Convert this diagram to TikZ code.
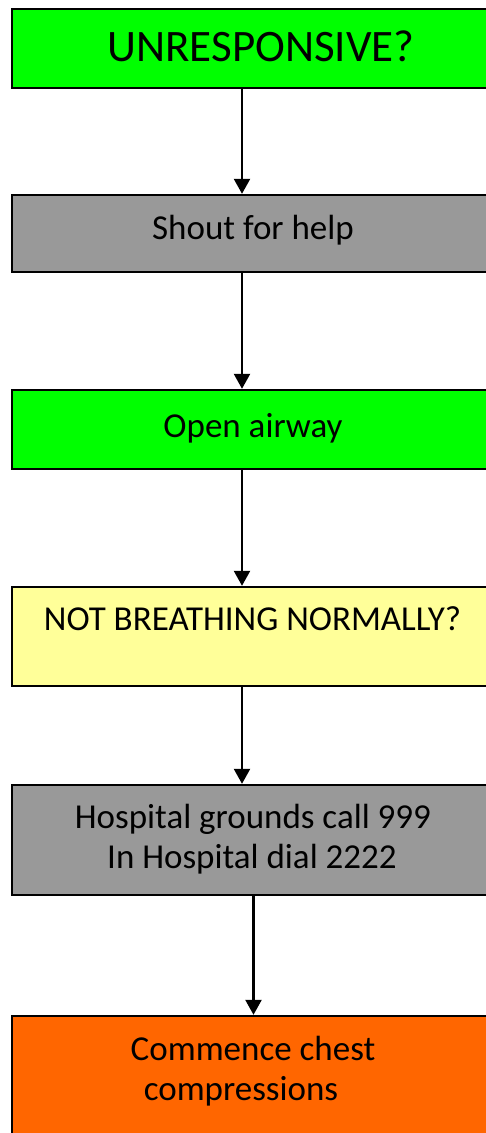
\documentclass[tikz,border=0pt]{standalone}
\usepackage{fontspec}
\setmainfont{Carlito}
\usetikzlibrary{arrows.meta}
\definecolor{cgreen}{HTML}{00FF00}
\definecolor{cgray}{HTML}{999999}
\definecolor{cyellow}{HTML}{FFFF99}
\definecolor{corange}{HTML}{FF6600}
\tikzset{
  box/.style={draw=black, line width=2.4pt, rectangle, inner sep=0pt, minimum width=484pt},
  lbl/.style={anchor=base, inner sep=0pt, font=\fontsize{35pt}{39pt}\selectfont},
  big/.style={anchor=base, inner sep=0pt, font=\fontsize{45pt}{49pt}\selectfont},
  arr/.style={line width=2.4pt, -{Triangle[width=16pt,length=15pt]}}
}
\begin{document}
\begin{tikzpicture}[x=1pt,y=-1pt]
\useasboundingbox (0,0) rectangle (486,1133);
\begin{scope}
\clip (0,0) rectangle (486,1133);
\node[box, fill=cgreen, minimum height=79pt] (b1) at (254,48.5) {};
\node[box, fill=cgray, minimum height=77pt] (b2) at (254,233.5) {};
\node[box, fill=cgreen, minimum height=79pt] (b3) at (254,429.5) {};
\node[box, fill=cyellow, minimum height=99pt] (b4) at (254,636.5) {};
\node[box, fill=cgray, minimum height=110pt] (b5) at (254,840) {};
\node[box, fill=corange, minimum height=130pt] (b6) at (254,1081) {};
\end{scope}
\node[big] (t1) at (261,61) {UNRESPONSIVE?};
\node[lbl] (t2) at (253,239) {Shout for help};
\node[lbl] (t3) at (253,437) {Open airway};
\node[lbl] (t4) at (252.5,630) {NOT BREATHING NORMALLY?};
\node[lbl] (t5a) at (253,828) {Hospital grounds call 999};
\node[lbl] (t5b) at (252,868) {In Hospital dial 2222};
\node[lbl] (t6a) at (253,1060) {Commence chest};
\node[lbl] (t6b) at (241,1100) {compressions};
\coordinate (ax) at (242,0);
\coordinate (bx) at (253.5,0);
\draw[arr] (b1.south -| ax) -- (b2.north -| ax);
\draw[arr] (b2.south -| ax) -- (b3.north -| ax);
\draw[arr] (b3.south -| ax) -- (b4.north -| ax);
\draw[arr] (b4.south -| ax) -- (b5.north -| ax);
\draw[arr] (b5.south -| bx) -- (b6.north -| bx);
\end{tikzpicture}
\end{document}
